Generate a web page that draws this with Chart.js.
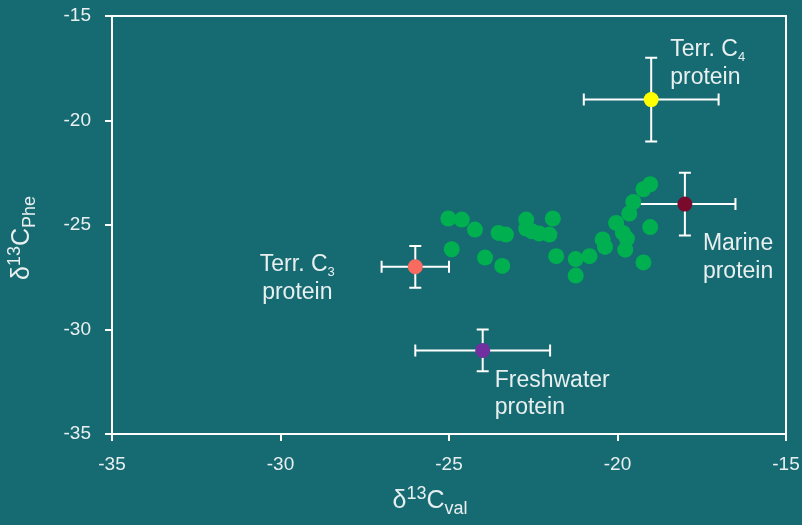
<!DOCTYPE html>
<html>
<head>
<meta charset="utf-8">
<script src="https://cdn.jsdelivr.net/npm/chart.js@4/dist/chart.umd.min.js"></script>
<style>
  html, body { margin: 0; padding: 0; background: #166a72; }
  #wrap { width: 802px; height: 525px; }
</style>
</head>
<body>
<div id="wrap"><canvas id="c" width="802" height="525"></canvas></div>
<script>
// ---- data ----
const sampleX = [-25.02, -24.62, -24.23, -24.92, -23.53, -23.31, -23.93, -23.42, -22.71, -22.71,
                 -22.54, -22.32, -22.02, -21.92, -21.82, -21.24, -21.24, -20.83, -20.44, -20.37,
                 -20.04, -19.84, -19.72, -19.77, -19.65, -19.53, -19.23, -19.03, -19.03, -19.23];
const sampleY = [-24.69, -24.74, -25.22, -26.16, -25.38, -25.46, -26.56, -26.96, -24.74, -25.17,
                 -25.30, -25.41, -25.46, -24.69, -26.49, -26.63, -27.42, -26.49, -25.69, -26.05,
                 -24.90, -25.38, -25.65, -26.18, -24.45, -23.90, -23.29, -23.05, -25.10, -26.79];

const refNames  = ['Terr. C4', 'Terr. C3', 'Marine', 'Freshwater'];
const refX      = [-19, -26, -18, -24];
const refY      = [-19, -27, -24, -31];
const refXLow   = [-21, -27, -19.5, -26];
const refXHigh  = [-17, -25, -16.5, -22];
const refYLow   = [-21, -28, -25.5, -32];
const refYHigh  = [-17, -26, -22.5, -30];
const refColors = ['#ffff00', '#fa6b5f', '#7a0a2c', '#7030a0'];

const xTicks = [-35, -30, -25, -20, -15];
const yTicks = [-35, -30, -25, -20, -15];

// ---- styles ----
const TXT = '#e8efef';
const FONT = '"Liberation Sans", Arial, sans-serif';

// label layout (pixel offsets relative to the point), lines are segment lists
const labelLayout = [
  { align: 'left',   dx: 19,   dy: [-44, -16], lines: [[['Terr. C',''],['4','sub']], [['protein','']]] },
  { align: 'center', dx: -118, dy: [4, 32],    lines: [[['Terr. C',''],['3','sub']], [['protein','']]] },
  { align: 'left',   dx: 18,   dy: [46, 74],   lines: [[['Marine','']], [['protein','']]] },
  { align: 'left',   dx: 12,   dy: [37, 64],   lines: [[['Freshwater','']], [['protein','']]] }
];

function segWidth(ctx, segs, size, ratio) {
  let w = 0;
  for (const [t, k] of segs) {
    ctx.font = (k ? Math.round(size * ratio) : size) + 'px ' + FONT;
    w += ctx.measureText(t).width;
  }
  return w;
}
function drawSegs(ctx, segs, x, y, size, align, ratio) {
  const w = segWidth(ctx, segs, size, ratio);
  let cx = align === 'center' ? x - w / 2 : (align === 'right' ? x - w : x);
  ctx.textAlign = 'left';
  ctx.textBaseline = 'alphabetic';
  for (const [t, k] of segs) {
    const s = k ? Math.round(size * ratio) : size;
    ctx.font = s + 'px ' + FONT;
    let yy = y;
    if (k === 'sub') yy = y + size * 0.24;
    if (k === 'sup') yy = y - size * 0.36;
    ctx.fillText(t, cx, yy);
    cx += ctx.measureText(t).width;
  }
}

const bgPlugin = {
  id: 'bg',
  beforeDraw(chart) {
    const ctx = chart.ctx;
    ctx.save();
    ctx.fillStyle = '#166a72';
    ctx.fillRect(0, 0, chart.width, chart.height);
    ctx.restore();
  }
};

const errPlugin = {
  id: 'errbars',
  beforeDatasetsDraw(chart) {
    const ctx = chart.ctx, xs = chart.scales.x, ys = chart.scales.y;
    ctx.save();
    ctx.strokeStyle = '#ffffff';
    ctx.lineWidth = 2;
    const cap = 6;
    for (let i = 0; i < refX.length; i++) {
      const px = xs.getPixelForValue(refX[i]), py = ys.getPixelForValue(refY[i]);
      const x1 = xs.getPixelForValue(refXLow[i]), x2 = xs.getPixelForValue(refXHigh[i]);
      const y1 = ys.getPixelForValue(refYLow[i]), y2 = ys.getPixelForValue(refYHigh[i]);
      ctx.beginPath();
      ctx.moveTo(x1, py); ctx.lineTo(x2, py);
      ctx.moveTo(x1, py - cap); ctx.lineTo(x1, py + cap);
      ctx.moveTo(x2, py - cap); ctx.lineTo(x2, py + cap);
      ctx.moveTo(px, y1); ctx.lineTo(px, y2);
      ctx.moveTo(px - cap, y1); ctx.lineTo(px + cap, y1);
      ctx.moveTo(px - cap, y2); ctx.lineTo(px + cap, y2);
      ctx.stroke();
    }
    ctx.restore();
  },
  afterDraw(chart) {
    const ctx = chart.ctx, xs = chart.scales.x, ys = chart.scales.y, a = chart.chartArea;
    ctx.save();
    // frame
    ctx.strokeStyle = '#ffffff';
    ctx.lineWidth = 2;
    ctx.strokeRect(a.left, a.top, a.right - a.left, a.bottom - a.top);
    // labels
    ctx.fillStyle = TXT;
    for (let i = 0; i < refX.length; i++) {
      const L = labelLayout[i];
      const px = xs.getPixelForValue(refX[i]), py = ys.getPixelForValue(refY[i]);
      L.lines.forEach((segs, j) => drawSegs(ctx, segs, px + L.dx, py + L.dy[j], 23, L.align, 0.58));
    }
    // axis titles
    drawSegs(ctx, [['δ',''],['13','sup'],['C',''],['val','sub']], (a.left + a.right) / 2 - 19, 508, 25, 'center', 0.72);
    ctx.translate(29, (a.top + a.bottom) / 2 + 13);
    ctx.rotate(-Math.PI / 2);
    drawSegs(ctx, [['δ',''],['13','sup'],['C',''],['Phe','sub']], 0, 0, 25, 'center', 0.72);
    ctx.restore();
  }
};

new Chart(document.getElementById('c'), {
  type: 'scatter',
  data: {
    datasets: [
      {
        label: 'Samples',
        data: sampleX.map((x, i) => ({ x, y: sampleY[i] })),
        backgroundColor: '#00b050',
        borderWidth: 0,
        pointRadius: 8,
        pointHoverRadius: 8
      },
      {
        label: 'Sources',
        data: refX.map((x, i) => ({ x, y: refY[i] })),
        backgroundColor: refColors,
        borderWidth: 0,
        pointRadius: 7.5,
        pointHoverRadius: 7.5
      }
    ]
  },
  options: {
    responsive: false,
    animation: false,
    events: [],
    layout: { padding: { top: 16, right: 16, left: 0, bottom: 0 } },
    plugins: { legend: { display: false }, tooltip: { enabled: false } },
    scales: {
      x: {
        type: 'linear', min: -35, max: -15,
        afterBuildTicks: s => { s.ticks = xTicks.map(v => ({ value: v })); },
        afterFit: s => { s.height = 91; s.paddingLeft = 0; s.paddingRight = 0; },
        ticks: { color: TXT, font: { family: FONT, size: 19 }, padding: 12 },
        grid: { display: true, drawOnChartArea: false, color: '#ffffff', lineWidth: 2, tickLength: 7 },
        border: { display: true, color: '#ffffff', width: 2 }
      },
      y: {
        type: 'linear', min: -35, max: -15,
        afterBuildTicks: s => { s.ticks = yTicks.map(v => ({ value: v })); },
        afterFit: s => { s.width = 112; s.paddingTop = 0; s.paddingBottom = 0; },
        ticks: { color: TXT, font: { family: FONT, size: 19 }, padding: 14 },
        grid: { display: true, drawOnChartArea: false, color: '#ffffff', lineWidth: 2, tickLength: 7 },
        border: { display: true, color: '#ffffff', width: 2 }
      }
    }
  },
  plugins: [bgPlugin, errPlugin]
});
</script>
</body>
</html>
